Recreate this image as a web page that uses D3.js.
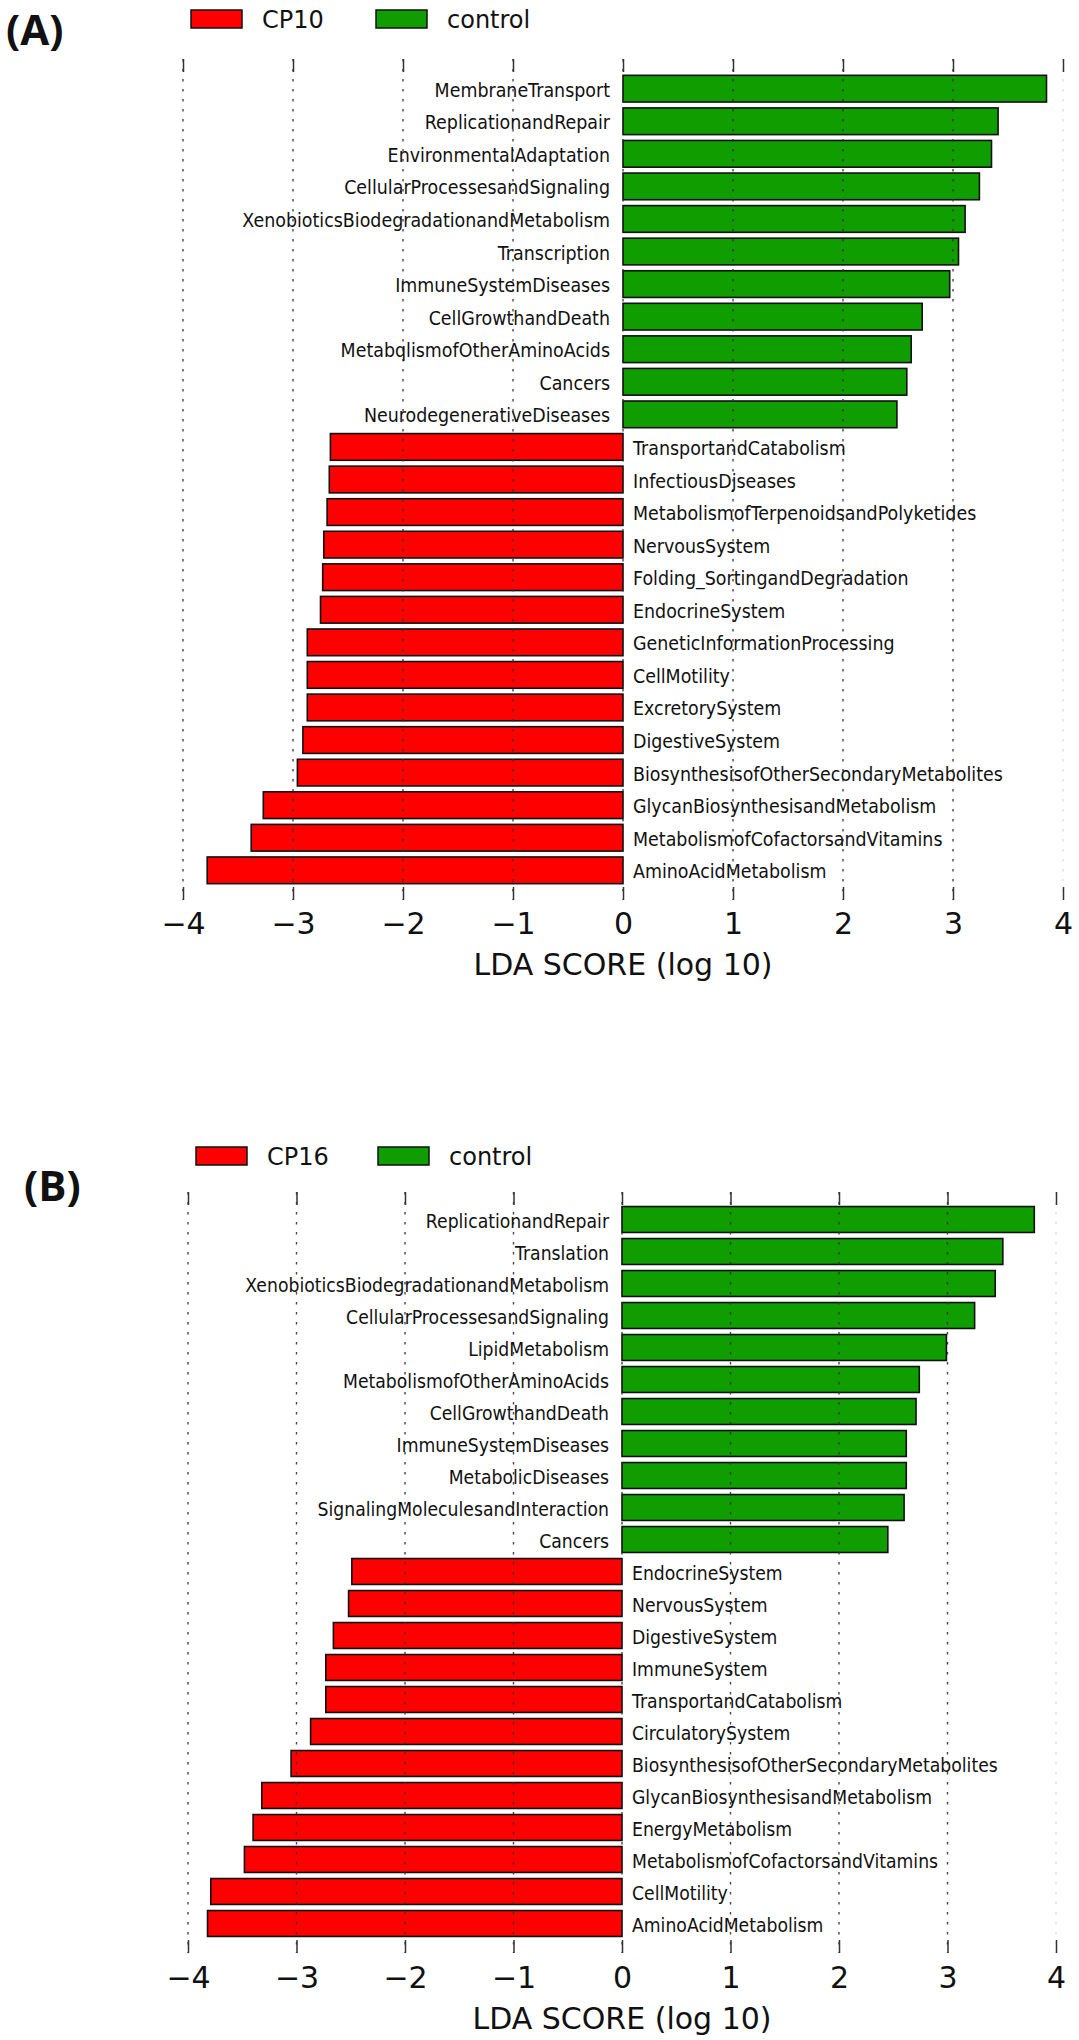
<!DOCTYPE html>
<html>
<head>
<meta charset="utf-8">
<script src="https://cdn.jsdelivr.net/npm/d3@7"></script>
<style>
  html, body { margin: 0; padding: 0; background: #fff; }
  svg { display: block; }
</style>
</head>
<body>
<svg id="chart" width="1079" height="2040"></svg>
<script>
// ---------------- DATA ----------------
const tickValues = [-4, -3, -2, -1, 0, 1, 2, 3, 4];
const axisLabel = "LDA SCORE (log 10)";

const panelA_title = "(A)";
const panelA_groups = ["CP10", "control"];
const panelA_categories = [
  "MembraneTransport", "ReplicationandRepair", "EnvironmentalAdaptation",
  "CellularProcessesandSignaling", "XenobioticsBiodegradationandMetabolism",
  "Transcription", "ImmuneSystemDiseases", "CellGrowthandDeath",
  "MetabqlismofOtherAminoAcids", "Cancers", "NeurodegenerativeDiseases",
  "TransportandCatabolism", "InfectiousDjseases", "MetabolismofTerpenoidsandPolyketides",
  "NervousSystem", "Folding_SortingandDegradation", "EndocrineSystem",
  "GeneticInformationProcessing", "CellMotility", "ExcretorySystem",
  "DigestiveSystem", "BiosynthesisofOtherSecondaryMetabolites",
  "GlycanBiosynthesisandMetabolism", "MetabolismofCofactorsandVitamins",
  "AminoAcidMetabolism"
];
const panelA_values = [
  3.85, 3.41, 3.35, 3.24, 3.11, 3.05, 2.97, 2.72, 2.62, 2.58, 2.49,
  -2.66, -2.67, -2.69, -2.72, -2.73, -2.75, -2.87, -2.87, -2.87, -2.91, -2.96,
  -3.27, -3.38, -3.78
];

const panelB_title = "(B)";
const panelB_groups = ["CP16", "control"];
const panelB_categories = [
  "ReplicationandRepair", "Translation", "XenobioticsBiodegradationandMetabolism",
  "CellularProcessesandSignaling", "LipidMetabolism", "MetabolismofOtherAminoAcids",
  "CellGrowthandDeath", "ImmuneSystemDiseases", "MetabolicDiseases",
  "SignalingMoleculesandInteraction", "Cancers",
  "EndocrineSystem", "NervousSystem", "DigestiveSystem", "ImmuneSystem",
  "TransportandCatabolism", "CirculatorySystem", "BiosynthesisofOtherSecondaryMetabolites",
  "GlycanBiosynthesisandMetabolism", "EnergyMetabolism", "MetabolismofCofactorsandVitamins",
  "CellMotility", "AminoAcidMetabolism"
];
const panelB_values = [
  3.80, 3.51, 3.44, 3.25, 2.99, 2.74, 2.71, 2.62, 2.62, 2.60, 2.45,
  -2.49, -2.52, -2.66, -2.73, -2.73, -2.87, -3.05, -3.32, -3.40, -3.48, -3.79, -3.82
];

// ---------------- STYLE ----------------
const RED = "#ff0000";
const GREEN = "#0f9d00";
const FONT = "'DejaVu Sans', sans-serif";

const svg = d3.select("#chart");

function drawPanel(cfg) {
  const g = svg.append("g");
  const x = d3.scaleLinear().domain([-4, 4]).range([cfg.x0, cfg.x1]);
  const p = cfg.pad;
  const y = d3.scaleBand().domain(cfg.categories)
    .range([cfg.barsTop, cfg.barsBottom]).paddingInner(p).paddingOuter(p / 2);

  // panel letter
  g.append("text").attr("x", cfg.titleX).attr("y", cfg.titleY)
    .attr("font-family", "'Open Sans', 'DejaVu Sans', sans-serif")
    .attr("font-weight", "bold").attr("font-size", 42).attr("fill", "#111")
    .text(cfg.title);

  // legend
  const lg = g.append("g");
  cfg.groups.forEach((name, i) => {
    const lx = cfg.legendX[i];
    lg.append("rect").attr("x", lx).attr("y", cfg.legendY - 9).attr("width", 51).attr("height", 18)
      .attr("fill", i === 0 ? RED : GREEN).attr("stroke", "#111").attr("stroke-width", 1.5);
    lg.append("text").attr("x", lx + 71).attr("y", cfg.legendY + 8.5)
      .attr("font-family", FONT).attr("font-size", 24).attr("fill", "#111").text(name);
  });

  // bars
  g.append("g").selectAll("rect").data(cfg.categories).join("rect")
    .attr("x", (d, i) => Math.min(x(0), x(cfg.values[i])))
    .attr("width", (d, i) => Math.abs(x(cfg.values[i]) - x(0)))
    .attr("y", d => y(d))
    .attr("height", y.bandwidth())
    .attr("fill", (d, i) => cfg.values[i] >= 0 ? GREEN : RED)
    .attr("stroke", "#111").attr("stroke-width", 1.6);

  // gridlines (drawn over bars)
  g.append("g").selectAll("line").data(tickValues).join("line")
    .attr("x1", d => x(d)).attr("x2", d => x(d))
    .attr("y1", cfg.axTop).attr("y2", cfg.axBottom)
    .attr("stroke", "#333").attr("stroke-width", 1.4)
    .attr("stroke-dasharray", "2.5,7.5")
    .attr("opacity", d => d === 4 ? 0.15 : 0.9);

  // top ticks
  const topAxis = d3.axisTop(x).tickValues(tickValues).tickSize(-13).tickFormat("");
  const ta = g.append("g").attr("transform", `translate(0,${cfg.axTop})`).call(topAxis);
  ta.select(".domain").remove();
  ta.selectAll(".tick line").attr("stroke", "#333").attr("stroke-width", 1.5);

  // bottom axis
  const botAxis = d3.axisBottom(x).tickValues(tickValues).tickSize(-13).tickPadding(0)
    .tickFormat(d3.format("d"));
  const ba = g.append("g").attr("transform", `translate(0,${cfg.axBottom})`).call(botAxis);
  ba.select(".domain").remove();
  ba.selectAll(".tick line").attr("stroke", "#333").attr("stroke-width", 1.5);
  ba.selectAll(".tick text").attr("font-family", FONT).attr("font-size", 30)
    .attr("fill", "#111").attr("dy", null).attr("y", cfg.tickBase - cfg.axBottom);

  // axis label
  g.append("text").attr("x", x(0)).attr("y", cfg.labelBase)
    .attr("text-anchor", "middle").attr("font-family", FONT).attr("font-size", 30)
    .attr("fill", "#111").text(axisLabel);

  // category labels
  const labels = g.append("g").selectAll("text").data(cfg.categories).join("text")
    .attr("font-family", FONT).attr("font-size", 19).attr("fill", "#111")
    .attr("text-anchor", (d, i) => cfg.values[i] >= 0 ? "end" : "start")
    .text(d => d);
  // horizontal compression to match reference label width
  let refW = 1;
  labels.each(function(d) { if (d === "XenobioticsBiodegradationandMetabolism") refW = this.getComputedTextLength(); });
  const k = cfg.refLabelWidth / refW;
  labels.attr("transform", (d, i) => {
    const v = cfg.values[i];
    const tx = v >= 0 ? x(0) - 13 : x(0) + 10;
    const ty = y(d) + y.bandwidth() / 2 + 8;
    return `translate(${tx},${ty}) scale(${k},1)`;
  });
}

drawPanel({
  title: panelA_title, titleX: 6, titleY: 45,
  groups: panelA_groups, legendX: [191, 376], legendY: 19,
  categories: panelA_categories, values: panelA_values,
  x0: 183, x1: 1063,
  axTop: 59, axBottom: 900,
  barsTop: 72.4, barsBottom: 886.6, pad: 0.18,
  tickBase: 934, labelBase: 975,
  refLabelWidth: 368
});

drawPanel({
  title: panelB_title, titleX: 24, titleY: 1201,
  groups: panelB_groups, legendX: [196, 378], legendY: 1156,
  categories: panelB_categories, values: panelB_values,
  x0: 188, x1: 1056,
  axTop: 1192, axBottom: 1953,
  barsTop: 1203.5, barsBottom: 1939.5, pad: 0.19,
  tickBase: 1988, labelBase: 2029,
  refLabelWidth: 364
});
</script>
</body>
</html>
